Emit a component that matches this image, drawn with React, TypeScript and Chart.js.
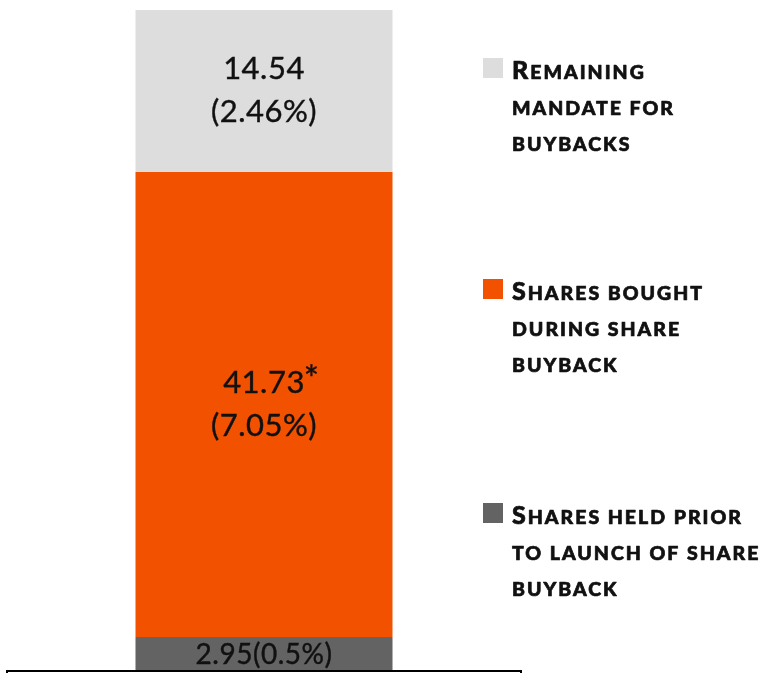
import React, { useEffect, useRef } from "react";
import { Chart, registerables } from "chart.js";

Chart.register(...registerables);

// ---- data ----
const categories = ["Shares"];
const seriesNames = [
  "Shares held prior to launch of share buyback",
  "Shares bought during share buyback",
  "Remaining mandate for buybacks",
];
const seriesValues = [2.95, 41.73, 14.54];
const seriesPercents = ["0.5%", "7.05%", "2.46%"];
const seriesNotes = ["", "*", ""];
const seriesColors = ["#636363", "#F25100", "#DDDDDD"];
// legend text (top to bottom), wrapped as in the reference
const legendOrder = [2, 1, 0];
const legendLines = [
  ["Remaining", "mandate for", "buybacks"],
  ["Shares bought", "during share", "buyback"],
  ["Shares held prior", "to launch of share", "buyback"],
];

const VALUE_FONT = "Lato, 'Noto Sans', sans-serif";
const LEGEND_FONT = "Lato, 'DejaVu Sans', sans-serif";
const TEXT_COLOR = "#111111";

const labelPlugin = {
  id: "segmentLabels",
  afterDatasetsDraw(chart: any) {
    const ctx = chart.ctx;
    ctx.save();
    ctx.fillStyle = TEXT_COLOR;
    ctx.strokeStyle = TEXT_COLOR;
    ctx.lineWidth = 0.4;
    ctx.textAlign = "center";
    ctx.textBaseline = "middle";
    const draw = (t: string, x: number, y: number) => {
      ctx.fillText(t, x, y);
      ctx.strokeText(t, x, y);
    };
    chart.data.datasets.forEach((ds: any, i: number) => {
      const meta = chart.getDatasetMeta(i);
      const bar = meta.data[0];
      if (!bar) return;
      const props = bar.getProps(["x", "y", "base"], true);
      const cx = props.x;
      const cy = (props.y + props.base) / 2;
      const val = seriesValues[i].toFixed(2);
      const pct = "(" + seriesPercents[i] + ")";
      (ctx as any).letterSpacing = "0.5px";
      if (i === 0) {
        ctx.font = `400 28px ${VALUE_FONT}`;
        draw(val + pct, cx, cy + 1);
      } else {
        ctx.font = `400 31px ${VALUE_FONT}`;
        const y1 = cy - 22;
        const y2 = cy + 21;
        draw(val, cx, y1);
        if (seriesNotes[i]) {
          const w = ctx.measureText(val).width;
          ctx.save();
          ctx.textAlign = "left";
          ctx.font = `400 36px ${VALUE_FONT}`;
          draw(seriesNotes[i], cx + w / 2 - 1, y1 - 2);
          ctx.restore();
        }
        draw(pct, cx, y2);
      }
    });
    ctx.restore();
  },
};

const legendPlugin = {
  id: "smallCapsLegend",
  afterDraw(chart: any) {
    const ctx = chart.ctx;
    ctx.save();
    const boxX = 483;
    const textX = 512;
    const tops = [58, 279, 503];
    legendOrder.forEach((dsIndex, k) => {
      const top = tops[k];
      ctx.fillStyle = seriesColors[dsIndex];
      ctx.fillRect(boxX, top, 20, 20);
      ctx.fillStyle = TEXT_COLOR;
      ctx.strokeStyle = TEXT_COLOR;
      ctx.lineWidth = 0.7;
      ctx.lineJoin = "round";
      ctx.textAlign = "left";
      ctx.textBaseline = "alphabetic";
      (ctx as any).letterSpacing = "2px";
      legendLines[k].forEach((line, li) => {
        const by = top + 21 + li * 36;
        let x = textX;
        let rest = line;
        if (li === 0) {
          ctx.font = `900 25px ${LEGEND_FONT}`;
          const first = line.charAt(0).toUpperCase();
          ctx.fillText(first, x, by);
          ctx.strokeText(first, x, by);
          x += ctx.measureText(first).width;
          rest = line.slice(1);
        }
        ctx.font = `900 19.5px ${LEGEND_FONT}`;
        ctx.fillText(rest.toUpperCase(), x, by);
        ctx.strokeText(rest.toUpperCase(), x, by);
      });
    });
    ctx.restore();
  },
};

const framePlugin = {
  id: "bottomFrame",
  afterDraw(chart: any) {
    const ctx = chart.ctx;
    const a = chart.chartArea;
    ctx.save();
    ctx.strokeStyle = "#000000";
    ctx.lineWidth = 2;
    ctx.beginPath();
    ctx.moveTo(a.left, chart.height + 2);
    ctx.lineTo(a.left, a.bottom + 1);
    ctx.lineTo(a.right, a.bottom + 1);
    ctx.lineTo(a.right, chart.height + 2);
    ctx.stroke();
    ctx.restore();
  },
};

export default function App() {
  const ref = useRef<HTMLCanvasElement | null>(null);
  useEffect(() => {
    if (!ref.current) return;
    const total = seriesValues.reduce((s, v) => s + v, 0);
    const chart = new Chart(ref.current, {
      type: "bar",
      data: {
        labels: categories,
        datasets: seriesValues.map((v, i) => ({
          label: seriesNames[i],
          data: [v],
          backgroundColor: seriesColors[i],
          borderWidth: 0,
          barPercentage: 0.5,
          categoryPercentage: 1,
        })),
      },
      options: {
        responsive: false,
        animation: false,
        layout: { padding: { left: 7, right: 241, top: 10, bottom: 3 } },
        plugins: {
          legend: { display: false },
          tooltip: { enabled: false },
        },
        scales: {
          x: { stacked: true, display: false },
          y: { stacked: true, display: false, min: 0, max: total },
        },
      },
      plugins: [labelPlugin, legendPlugin, framePlugin],
    });
    return () => chart.destroy();
  }, []);
  return (
    <canvas
      ref={ref}
      width={762}
      height={673}
      style={{ position: "absolute", left: 0, top: 0, width: 762, height: 673, display: "block" }}
    />
  );
}
